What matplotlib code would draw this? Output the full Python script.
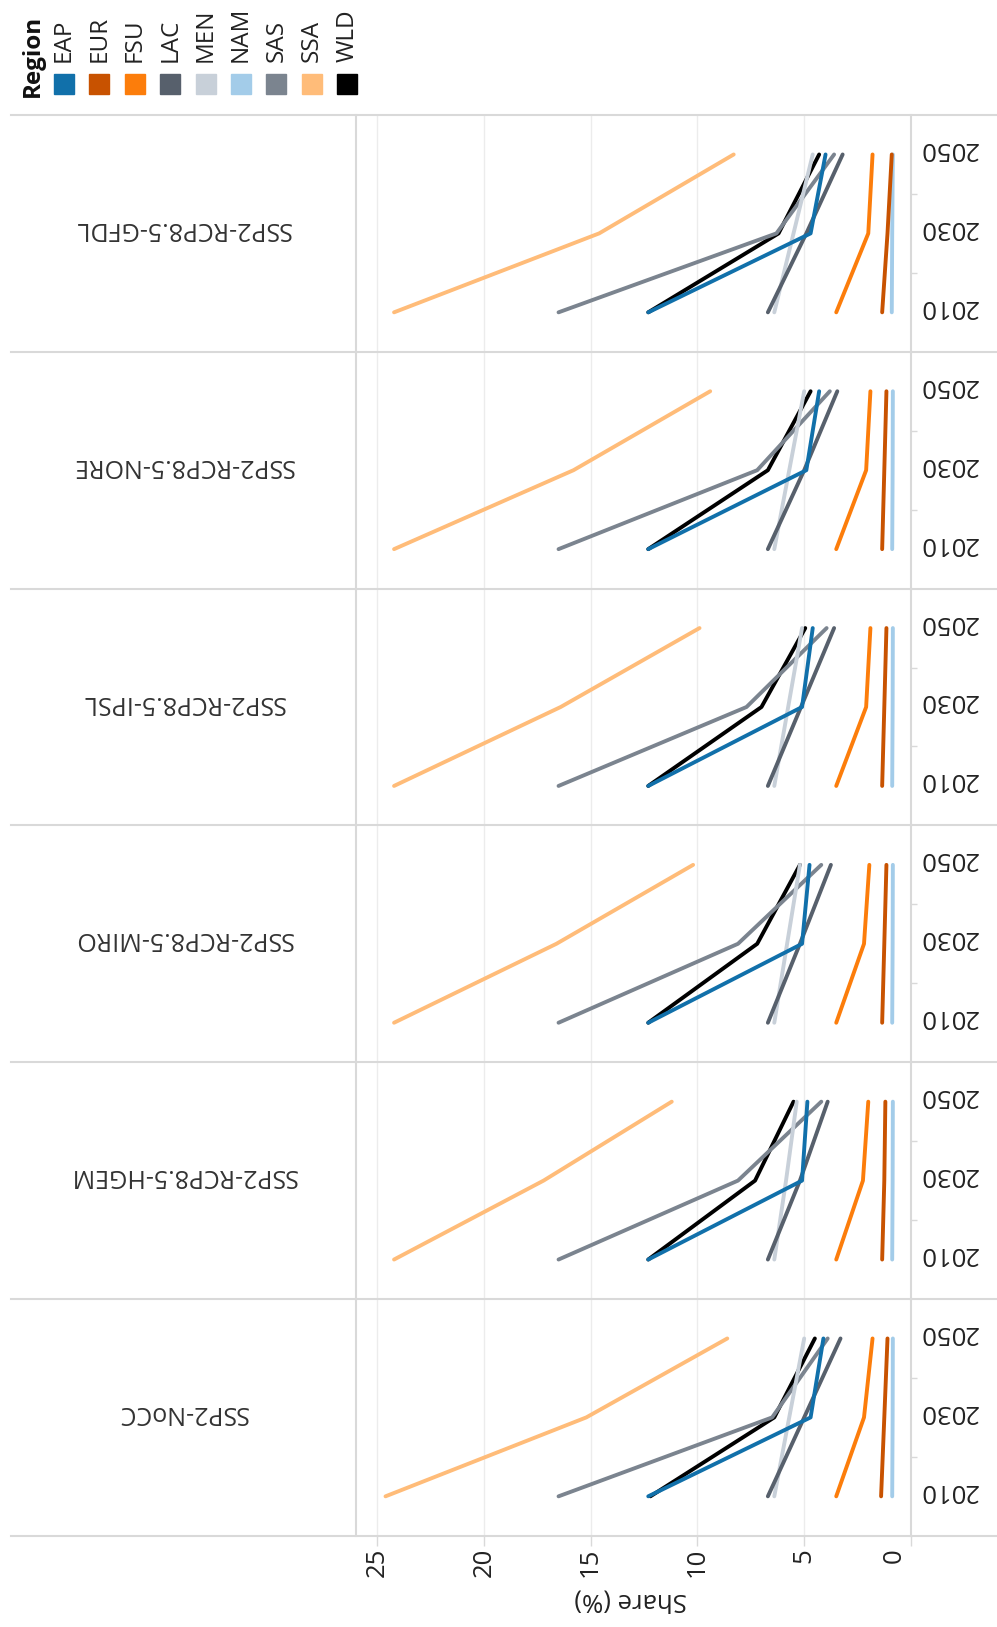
import matplotlib
matplotlib.use('Agg')
import matplotlib.pyplot as plt
from matplotlib.lines import Line2D
from matplotlib.patches import Rectangle
import matplotlib.transforms as mtransforms

plt.rcParams['font.family'] = ['Open Sans', 'DejaVu Sans']

# data (share of population, %)
years = [2010, 2030, 2050]
regions = ['EAP', 'EUR', 'FSU', 'LAC', 'MEN', 'NAM', 'SAS', 'SSA', 'WLD']
colors = ['#1170aa', '#c85200', '#fc7d0b', '#57606c', '#c8d0d9',
          '#a3cce9', '#7b848f', '#ffbc79', '#000000']
# bottom panel first
scenarios = ['SSP2-NoCC', 'SSP2-RCP8.5-HGEM', 'SSP2-RCP8.5-MIRO',
             'SSP2-RCP8.5-IPSL', 'SSP2-RCP8.5-NORE', 'SSP2-RCP8.5-GFDL']

# one row per scenario (same order as above), columns = years
eap = [[12.3, 4.7, 4.1], [12.3, 5.1, 4.85], [12.3, 5.1, 4.75],
       [12.3, 5.1, 4.6], [12.3, 4.9, 4.3], [12.3, 4.7, 4.0]]
eur = [[1.4, 1.25, 1.1], [1.35, 1.25, 1.2], [1.35, 1.25, 1.15],
       [1.35, 1.25, 1.15], [1.35, 1.25, 1.15], [1.35, 1.1, 0.9]]
fsu = [[3.5, 2.2, 1.8], [3.5, 2.25, 2.0], [3.5, 2.2, 1.95],
       [3.5, 2.1, 1.9], [3.5, 2.1, 1.9], [3.5, 2.0, 1.8]]
lac = [[6.7, 5.0, 3.3], [6.7, 5.2, 3.9], [6.7, 5.2, 3.75],
       [6.7, 5.15, 3.6], [6.7, 5.0, 3.45], [6.7, 4.9, 3.2]]
men = [[6.4, 5.7, 5.0], [6.4, 5.85, 5.35], [6.4, 5.8, 5.2],
       [6.4, 5.75, 5.1], [6.4, 5.7, 5.0], [6.4, 5.5, 4.6]]
nam = [[0.88, 0.86, 0.85], [0.88, 0.86, 0.85], [0.88, 0.86, 0.85],
       [0.88, 0.86, 0.85], [0.88, 0.86, 0.85], [0.9, 0.88, 0.85]]
sas = [[16.5, 6.5, 3.9], [16.5, 8.1, 4.2], [16.5, 8.1, 4.2],
       [16.5, 7.7, 3.95], [16.5, 7.2, 3.8], [16.5, 6.3, 3.6]]
ssa = [[24.6, 15.2, 8.6], [24.2, 17.2, 11.2], [24.2, 16.6, 10.2],
       [24.2, 16.4, 9.9], [24.2, 15.8, 9.4], [24.2, 14.6, 8.3]]
wld = [[12.2, 6.4, 4.5], [12.3, 7.3, 5.5], [12.3, 7.2, 5.2],
       [12.3, 7.0, 4.95], [12.3, 6.7, 4.7], [12.3, 6.2, 4.3]]

share_ticks = [0, 5, 10, 15, 20, 25]
series = dict(zip(regions, [eap, eur, fsu, lac, men, nam, sas, ssa, wld]))

W, H = 997, 1627
fig = plt.figure(figsize=(W / 100, H / 100), dpi=100)

GRID = '#d9d9d9'
TXT = '#222222'
top_px = 115.0
pane_h = 236.8
x0_px, x1_px = 355.6, 911.0


def shift(dx, dy):
    # offset in pixels (y up)
    return mtransforms.ScaledTranslation(dx / 100, dy / 100, fig.dpi_scale_trans)


for i, scen in enumerate(scenarios):
    k = len(scenarios) - 1 - i  # position from the top
    bot_px = top_px + (k + 1) * pane_h
    ax = fig.add_axes([x0_px / W, 1 - bot_px / H, (x1_px - x0_px) / W, pane_h / H])
    ax.set_xlim(26, 0)
    ax.set_ylim(2000, 2060)
    for r in reversed(regions):
        c = colors[regions.index(r)]
        ax.plot(series[r][i], years, color=c, lw=2.8, solid_capstyle='round')
    ax.set_xticks(share_ticks)
    ax.grid(axis='x', color='#ececec', lw=1)
    ax.set_axisbelow(True)
    for s in ['top', 'bottom']:
        ax.spines[s].set_visible(False)
    for s in ['left', 'right']:
        ax.spines[s].set_color(GRID)
        ax.spines[s].set_linewidth(1.5)
    ax.yaxis.tick_right()
    ax.set_yticks(years)
    ax.set_yticklabels([])
    ax.set_yticks([2020, 2040], minor=True)
    ax.tick_params(axis='y', which='major', length=0)
    ax.tick_params(axis='y', which='minor', length=4, width=1, color=GRID)
    ytrans = mtransforms.blended_transform_factory(ax.transAxes, ax.transData)
    for yr in years:
        ax.text(1, yr, str(yr), transform=ytrans + shift(8, 6), rotation=180,
                ha='left', va='center', fontsize=18.5, color=TXT)
    ax.set_xticklabels([])
    if i == 0:
        ax.tick_params(axis='x', length=7, width=1, color=GRID, direction='out')
        trans = mtransforms.blended_transform_factory(ax.transData, ax.transAxes)
        for v in share_ticks:
            dx = -17 if v == 0 else 0
            ax.text(v, 0, str(v), transform=trans + shift(dx, -12), rotation=90,
                    ha='center', va='top', fontsize=18.5, color=TXT)
    else:
        ax.tick_params(axis='x', length=0)
    fig.text(183 / W, 1 - (bot_px - pane_h / 2) / H, scen, rotation=180,
             ha='center', va='center', fontsize=18, color='#333333',
             transform=fig.transFigure + shift(0, 5))

# pane separators
for k in range(len(scenarios) + 1):
    y = 1 - (top_px + k * pane_h) / H
    fig.add_artist(Line2D([11 / W, 1], [y, y], transform=fig.transFigure,
                          color=GRID, lw=1.5))

fig.text(631 / W, 1 - 1603 / H, 'Share (%)', rotation=180, ha='center',
         va='center', fontsize=18.5, color=TXT, transform=fig.transFigure + shift(0, 3))

# legend
fig.text(33 / W, 1 - 97 / H, 'Region', rotation=90, ha='center', va='bottom',
         fontsize=17.5, weight='bold', color='#111111')
for j, (r, c) in enumerate(zip(regions, colors)):
    cx = 64 + j * 35.4
    fig.add_artist(Rectangle(((cx - 10) / W, 1 - 94 / H), 20 / W, 20 / H,
                             transform=fig.transFigure, color=c))
    fig.text(cx / W, 1 - 62 / H, r, rotation=90, ha='center', va='bottom',
             fontsize=17.5, color=TXT)

fig.savefig('out.png', dpi=100)
